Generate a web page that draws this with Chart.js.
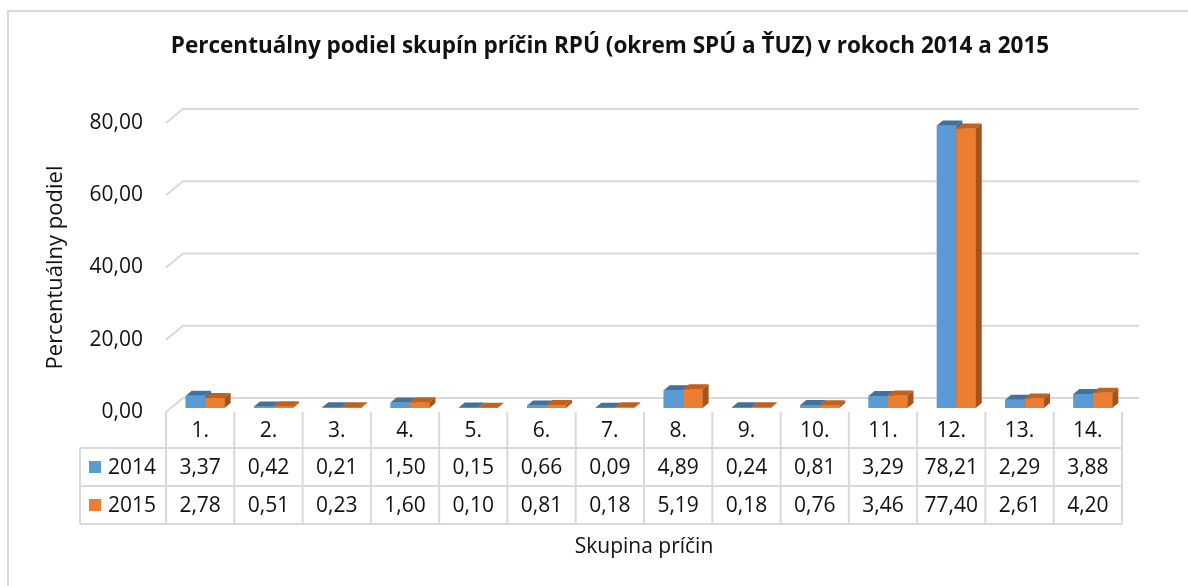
<!DOCTYPE html>
<html lang="sk">
<head>
<meta charset="utf-8">
<title>Percentuálny podiel skupín príčin RPÚ</title>
<script src="https://cdn.jsdelivr.net/npm/chart.js@4.4.0/dist/chart.umd.min.js"></script>
<style>
  html, body { margin: 0; padding: 0; background: #fff; overflow: hidden; }
  #wrap { position: relative; width: 1188px; height: 586px; }
  #frame { position: absolute; left: 7px; top: 10px; width: 1181px; height: 576px;
           border-left: 2px solid #d9d9d9; border-top: 2px solid #d9d9d9; box-sizing: border-box; }
  #chart { position: absolute; left: 0; top: 0; }
</style>
</head>
<body>
<div id="wrap">
  <div id="frame"></div>
  <canvas id="chart" width="1188" height="586"></canvas>
</div>
<script>
// --- Dáta ---
const categories = ['1.', '2.', '3.', '4.', '5.', '6.', '7.', '8.', '9.', '10.', '11.', '12.', '13.', '14.'];
const seriesNames = ['2014', '2015'];
const values2014 = [3.37, 0.42, 0.21, 1.50, 0.15, 0.66, 0.09, 4.89, 0.24, 0.81, 3.29, 78.21, 2.29, 3.88];
const values2015 = [2.78, 0.51, 0.23, 1.60, 0.10, 0.81, 0.18, 5.19, 0.18, 0.76, 3.46, 77.40, 2.61, 4.20];
const yTicks = [0, 20, 40, 60, 80];

// --- Vzhľad ---
const FONT = '"Open Sans", sans-serif';
const TEXT = '#111';
const GRID = '#d9d9d9';
const frontColors = ['#5b9bd5', '#ed7d31'];
const topColors = ['#41719c', '#c2601c'];
const sideColors = ['#3d6b94', '#a4531a'];
const SHIFT = { dx: 5, dy: -4 };   // stĺpce sú trochu za prednou rovinou
const DEPTH = { dx: 6, dy: -5 };   // hrúbka stĺpca
const WALL = { dx: 17, dy: -14 };  // zadná stena s mriežkou
const TABLE = { legendLeft: 80, headerH: 36, rowH: 38, font: 21 };

const fmt = v => Number(v).toFixed(2).replace('.', ',');

// Mriežka na zadnej stene + posun pre 3D stĺpce
const wall3d = {
  id: 'wall3d',
  beforeDatasetsDraw(chart) {
    const { ctx, chartArea: area } = chart;
    const y = chart.scales.y;
    ctx.save();
    ctx.strokeStyle = GRID;
    ctx.lineWidth = 2;
    y.ticks.forEach(t => {
      const py = y.getPixelForValue(t.value);
      ctx.beginPath();
      ctx.moveTo(area.left, py);
      ctx.lineTo(area.left + WALL.dx, py + WALL.dy);
      ctx.lineTo(area.right + WALL.dx, py + WALL.dy);
      ctx.stroke();
    });
    ctx.restore();
    ctx.save();
    ctx.translate(SHIFT.dx, SHIFT.dy);
  },
  afterDatasetsDraw(chart) {
    const ctx = chart.ctx;
    // po kategóriách zľava doprava, aby sa bočné steny prekrývali správne
    const metas = [chart.getDatasetMeta(0), chart.getDatasetMeta(1)];
    categories.forEach((c, i) => {
      metas.forEach((meta, d) => {
        const bar = meta.data[i];
        if (!bar) return;
        bar.draw(ctx);
        const l = bar.x - bar.width / 2, r = bar.x + bar.width / 2;
        const top = bar.y, base = bar.base;
        ctx.fillStyle = topColors[d];
        ctx.beginPath();
        ctx.moveTo(l, top);
        ctx.lineTo(l + DEPTH.dx, top + DEPTH.dy);
        ctx.lineTo(r + DEPTH.dx, top + DEPTH.dy);
        ctx.lineTo(r, top);
        ctx.closePath();
        ctx.fill();
        ctx.fillStyle = sideColors[d];
        ctx.beginPath();
        ctx.moveTo(r, top);
        ctx.lineTo(r + DEPTH.dx, top + DEPTH.dy);
        ctx.lineTo(r + DEPTH.dx, base + DEPTH.dy);
        ctx.lineTo(r, base);
        ctx.closePath();
        ctx.fill();
      });
    });
    ctx.restore();
  }
};

// Tabuľka údajov pod grafom
const dataTable = {
  id: 'dataTable',
  afterDraw(chart) {
    const { ctx, chartArea: area } = chart;
    const x = chart.scales.x;
    const colW = x.width / categories.length;
    const top = area.bottom;
    const r1 = top + TABLE.headerH;
    const r2 = r1 + TABLE.rowH;
    const r3 = r2 + TABLE.rowH;
    const rows = [values2014, values2015];

    ctx.save();
    ctx.strokeStyle = GRID;
    ctx.lineWidth = 2;
    // zvislé čiary
    for (let i = 0; i <= categories.length; i++) {
      const px = x.left + i * colW;
      ctx.beginPath();
      ctx.moveTo(px, top);
      ctx.lineTo(px, r3);
      ctx.stroke();
    }
    ctx.beginPath();
    ctx.moveTo(TABLE.legendLeft, r1);
    ctx.lineTo(TABLE.legendLeft, r3);
    ctx.stroke();
    // vodorovné čiary
    [r1, r2, r3].forEach(py => {
      ctx.beginPath();
      ctx.moveTo(TABLE.legendLeft, py);
      ctx.lineTo(x.right, py);
      ctx.stroke();
    });

    ctx.fillStyle = TEXT;
    ctx.font = TABLE.font + 'px ' + FONT;
    ctx.textAlign = 'center';
    ctx.textBaseline = 'middle';
    categories.forEach((c, i) => {
      const cx = x.getPixelForValue(i);
      ctx.fillText(c, cx, (top + r1) / 2 + 1);
      ctx.fillText(fmt(rows[0][i]), cx, (r1 + r2) / 2 + 1);
      ctx.fillText(fmt(rows[1][i]), cx, (r2 + r3) / 2 + 1);
    });

    // legenda v tabuľke
    ctx.textAlign = 'left';
    [[r1, r2], [r2, r3]].forEach(([a, b], d) => {
      const cy = (a + b) / 2;
      ctx.fillStyle = frontColors[d];
      ctx.fillRect(TABLE.legendLeft + 9, cy - 6, 12, 12);
      ctx.fillStyle = TEXT;
      ctx.fillText(seriesNames[d], TABLE.legendLeft + 28, cy + 1);
    });
    ctx.restore();
  }
};

const ctx = document.getElementById('chart');
new Chart(ctx, {
  type: 'bar',
  data: {
    labels: categories,
    datasets: [
      { label: seriesNames[0], data: values2014, backgroundColor: frontColors[0], clip: false },
      { label: seriesNames[1], data: values2015, backgroundColor: frontColors[1], clip: false }
    ]
  },
  options: {
    responsive: false,
    animation: false,
    events: [],
    categoryPercentage: 0.57,
    barPercentage: 1.0,
    layout: { padding: { left: 32, right: 0, top: 0, bottom: 0 } },
    plugins: {
      legend: { display: false },
      tooltip: { enabled: false },
      title: {
        display: true,
        text: 'Percentuálny podiel skupín príčin RPÚ (okrem SPÚ a ŤUZ) v rokoch 2014 a 2015',
        color: TEXT,
        font: { family: FONT, size: 22.5, weight: 'bold' },
        padding: { top: 33, bottom: 63 }
      }
    },
    scales: {
      x: {
        grid: { display: false },
        border: { display: false },
        ticks: { display: false },
        title: {
          display: true,
          text: 'Skupina príčin',
          color: TEXT,
          font: { family: FONT, size: 21 },
          padding: { top: 0, bottom: 26 }
        },
        afterFit: s => { s.height = 174; }
      },
      y: {
        min: 0,
        max: 80,
        afterBuildTicks: s => { s.ticks = yTicks.map(v => ({ value: v })); },
        ticks: { padding: 23, color: TEXT, font: { family: FONT, size: 21 }, callback: v => fmt(v) },
        grid: { display: false, drawTicks: false },
        border: { display: false },
        title: {
          display: true,
          text: 'Percentuálny podiel',
          color: TEXT,
          font: { family: FONT, size: 22 },
          padding: { top: 11, bottom: 0 }
        },
        afterFit: s => { s.width = 134; }
      },
      y2: {
        position: 'right',
        grid: { display: false },
        border: { display: false },
        ticks: { display: false },
        afterFit: s => { s.width = 66; }
      }
    }
  },
  plugins: [wall3d, dataTable]
});
</script>
</body>
</html>
